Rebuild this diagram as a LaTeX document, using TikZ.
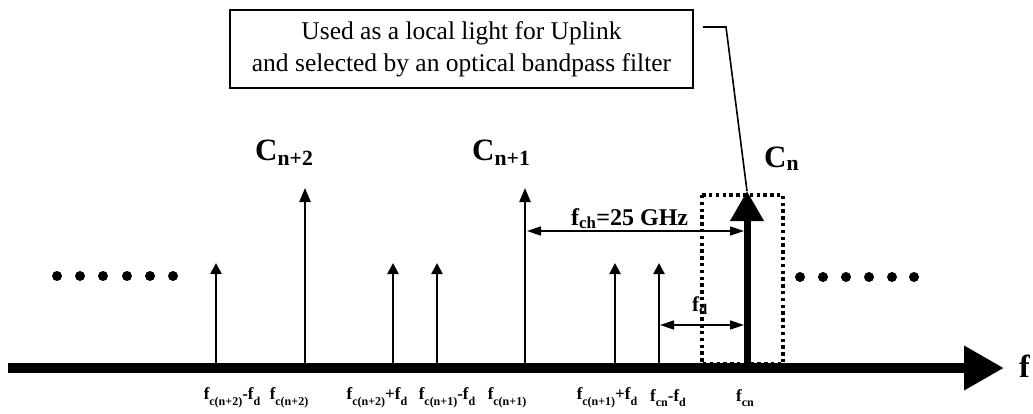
\documentclass[tikz,border=0pt]{standalone}
\usepackage{fontspec}
\setmainfont{Liberation Serif}
\usetikzlibrary{arrows.meta}
\newcommand\lowsub[1]{\raisebox{-0.32em}{\fontsize{12}{12}\selectfont #1}}
\begin{document}
\begin{tikzpicture}[x=1pt,y=-1pt,
  spike/.style={line width=2.4pt,-{Triangle[width=11pt,length=11pt]}},
  bigspike/.style={line width=2.4pt,-{Triangle[width=11pt,length=14pt]}},
  dim/.style={line width=1.6pt,{Triangle[width=9pt,length=14pt]}-{Triangle[width=9pt,length=14pt]}},
  flabel/.style={font=\bfseries\fontsize{17}{17}\selectfont,inner sep=0pt},
  clabel/.style={font=\bfseries\fontsize{31}{31}\selectfont,inner sep=0pt,anchor=base west},
  dot/.style={circle,fill=black,inner sep=0pt,minimum size=10pt}]
\useasboundingbox (0,0) rectangle (1033,413);
% axis
\coordinate (a0) at (8,368);
\coordinate (a1) at (1004,368);
\draw[line width=10pt,-{Triangle[width=42pt,length=40pt]}] (a0) -- (a1);
\node[font=\bfseries\fontsize{32}{32}\selectfont,inner sep=0pt,anchor=base west] (f) at (1019,377) {f};
% spike base coordinates
\coordinate (b1) at (216,366); \coordinate (t1) at (216,263);
\coordinate (b2) at (305,366); \coordinate (t2) at (305,188);
\coordinate (b3) at (393,366); \coordinate (t3) at (393,263);
\coordinate (b4) at (437,366); \coordinate (t4) at (437,263);
\coordinate (b5) at (525,366); \coordinate (t5) at (525,188);
\coordinate (b6) at (615,366); \coordinate (t6) at (615,263);
\coordinate (b7) at (659,366); \coordinate (t7) at (659,263);
\coordinate (b8) at (747,366); \coordinate (t8) at (747,191);
\draw[spike] (b1) -- (t1);
\draw[bigspike] (b2) -- (t2);
\draw[spike] (b3) -- (t3);
\draw[spike] (b4) -- (t4);
\draw[bigspike] (b5) -- (t5);
\draw[spike] (b6) -- (t6);
\draw[spike] (b7) -- (t7);
\draw[line width=7pt,-{Triangle[width=32pt,length=30pt]}] (b8) -- (t8);
% dotted filter box
\draw[line width=3.4pt,dash pattern=on 3.4pt off 3.4pt] (702,195) rectangle (783,364);
% dimension arrows
\coordinate (ch0) at (527,231); \coordinate (ch1) at (744,231);
\draw[dim] (ch0) -- (ch1);
\node[font=\bfseries\fontsize{24}{24}\selectfont,inner sep=0pt,anchor=base west] (fch) at (571,225) {f\textsubscript{ch}=25 GHz};
\coordinate (d0) at (660,325); \coordinate (d1) at (744,325);
\draw[dim] (d0) -- (d1);
\node[font=\bfseries\fontsize{21}{21}\selectfont,inner sep=0pt,anchor=base west] (fd) at (692,311) {f\textsubscript{d}};
% C labels
\node[clabel] (cn2) at (255,160) {C\textsubscript{n+2}};
\node[clabel] (cn1) at (472,160) {C\textsubscript{n+1}};
\node[clabel] (cn) at (764,167) {C\textsubscript{n}};
% dots
\foreach \x [count=\i] in {57,80,103,127,150,173} \node[dot] (ld\i) at (\x,276) {};
\foreach \x [count=\i] in {800,823,846,869,892,914} \node[dot] (rd\i) at (\x,277) {};
% frequency labels
\node[flabel] (l1) at (232,398) {f\lowsub{c(n+2)}-f\lowsub{d}};
\node[flabel] (l2) at (289,398) {f\lowsub{c(n+2)}};
\node[flabel] (l3) at (377,398) {f\lowsub{c(n+2)}+f\lowsub{d}};
\node[flabel] (l4) at (447,398) {f\lowsub{c(n+1)}-f\lowsub{d}};
\node[flabel] (l5) at (507,398) {f\lowsub{c(n+1)}};
\node[flabel] (l6) at (607,398) {f\lowsub{c(n+1)}+f\lowsub{d}};
\node[flabel] (l7) at (668,398) {f\lowsub{cn}-f\lowsub{d}};
\node[flabel] (l8) at (745,398) {f\lowsub{cn}};
% annotation box
\node[draw,line width=1.4pt,minimum width=463pt,minimum height=78pt,inner sep=0pt,align=center,
  font=\fontsize{25.5}{32}\selectfont] (note) at (461.5,49) {Used as a local light for Uplink\\and selected by an optical bandpass filter};
\coordinate (k0) at (703,27);
\coordinate (k1) at (726,27);
\draw[line width=1.6pt] (k0) -- (k1) -- (t8);
\end{tikzpicture}
\end{document}
